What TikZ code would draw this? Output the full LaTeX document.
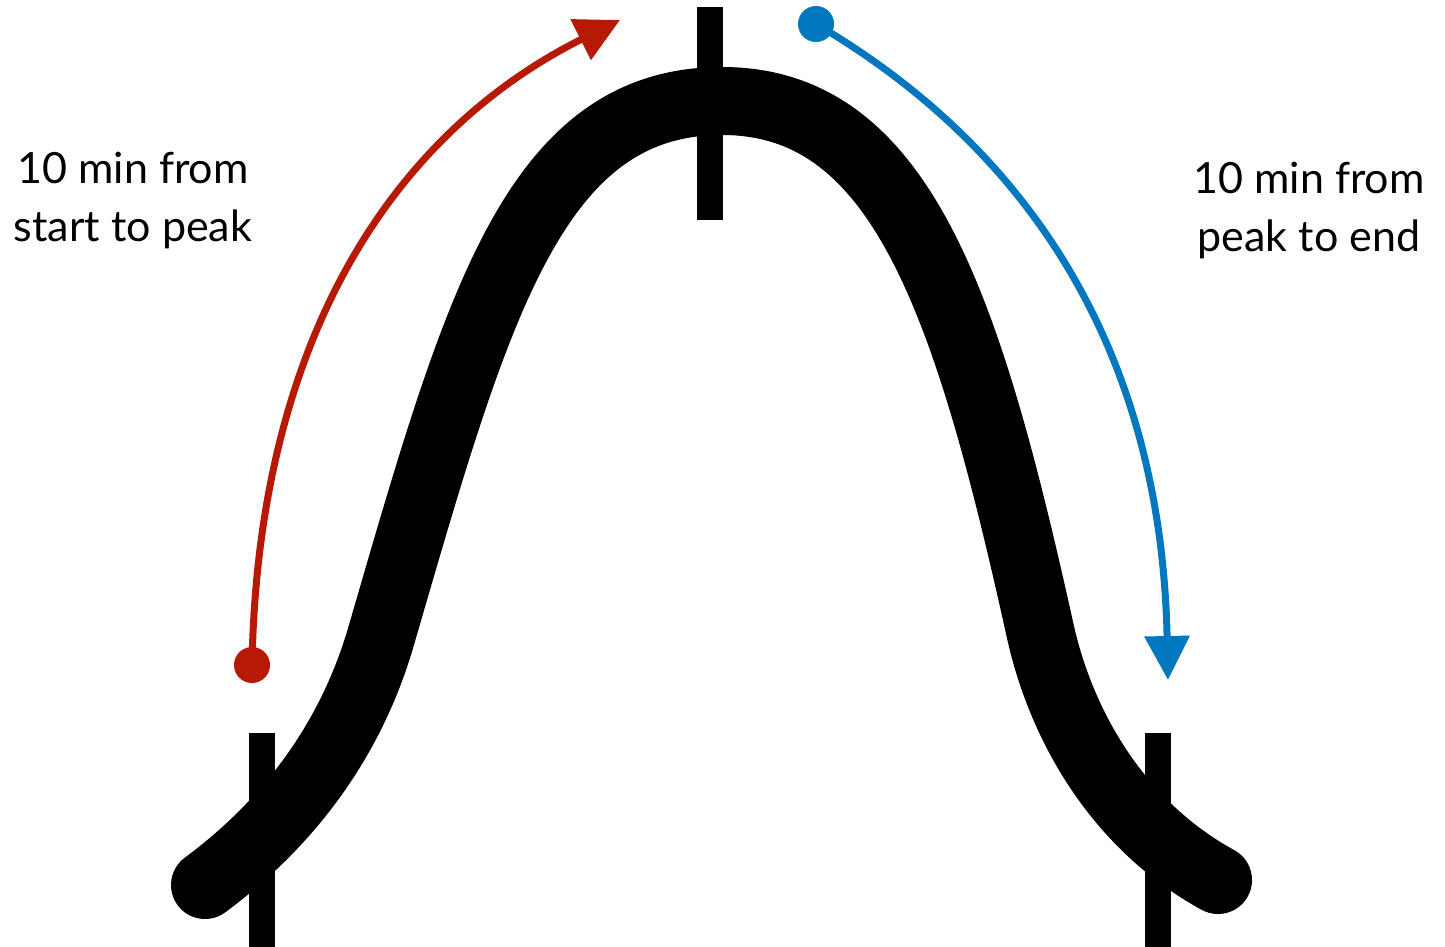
\documentclass[tikz,border=0pt]{standalone}
\usepackage{fontspec}
\setmainfont{Lato}
\usetikzlibrary{arrows.meta}
\definecolor{arrowred}{RGB}{182,26,4}
\definecolor{arrowblue}{RGB}{0,119,190}
\begin{document}
\begin{tikzpicture}[x=1pt,y=-1pt,
  bellcurve/.style={line width=68pt, line cap=round, line join=round},
  tickbar/.style={line width=26pt},
  enddot/.style={circle, inner sep=0pt, minimum size=36pt, fill=#1},
  flowarrow/.style={line width=7pt, draw=#1, -{Triangle[length=44pt,width=44pt]}},
  lbl/.style={font=\fontsize{43}{58}\selectfont, align=center, inner sep=0pt}]
\useasboundingbox (0,0) rectangle (1445,947);
% bell curve
\draw[bellcurve] (205,885) .. controls (290,822) and (350,740) .. (380,640)
  .. controls (476,310) and (532,101) .. (722,101)
  .. controls (900,101) and (967,300) .. (1040,630)
  .. controls (1062,730) and (1121,827) .. (1218,880);
% ticks
\draw[tickbar] (710,7) -- (710,220);
\draw[tickbar] (262,733) -- (262,947);
\draw[tickbar] (1157.5,733) -- (1157.5,947);
% red arrow
\node[enddot=arrowred] (rs) at (252,665) {};
\coordinate (re) at (620,20);
\draw[flowarrow=arrowred] (rs.center) .. controls (258,330) and (400,130) .. (re);
% blue arrow
\node[enddot=arrowblue] (bs) at (816,24) {};
\coordinate (be) at (1168,680);
\draw[flowarrow=arrowblue] (bs.center) .. controls (980,120) and (1160,300) .. (be);
% labels
\node[lbl] (lt) at (133,201) {10 min from\\start to peak};
\node[lbl] (rt) at (1309,211) {10 min from\\peak to end};
\end{tikzpicture}
\end{document}
